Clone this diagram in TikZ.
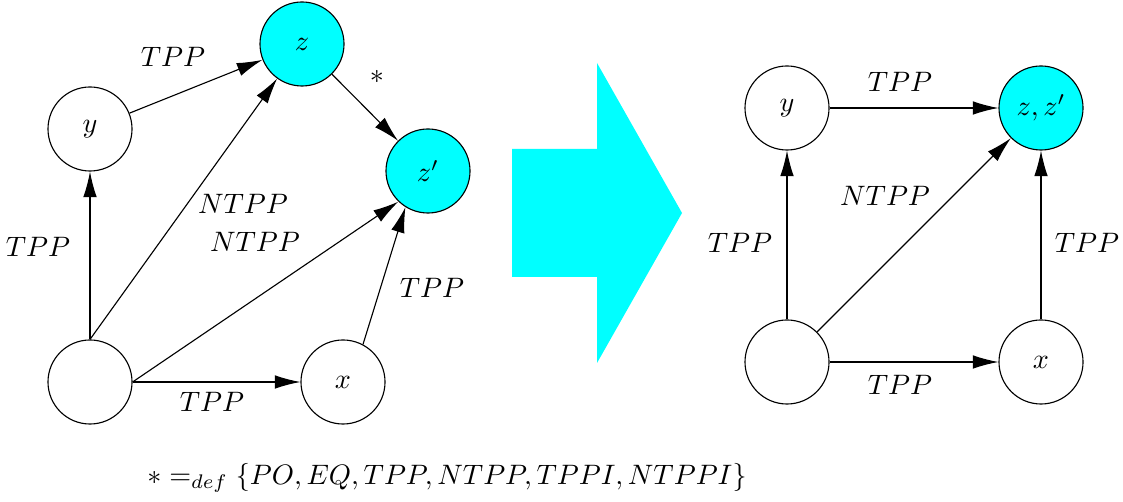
\documentclass[tikz,border=0pt]{standalone}
\usepackage{amsmath}
\usepackage{amssymb}
\usepackage{tikz}
\usetikzlibrary{arrows.meta}
\usetikzlibrary{positioning}
\definecolor{aqua}{RGB}{0,255,255}
\tikzset{>={Latex[length=3.2mm,width=1.7mm]}}

\begin{document}
\begin{tikzpicture}[
    x=0.0125cm, y=-0.0125cm,
    region/.style={circle, draw, minimum size=1.05cm, inner sep=0pt},
    merged/.style={region, fill=aqua},
    rel/.style={draw, ->},
    lbl/.style={inner sep=1pt}
    ]
\useasboundingbox (0,0) rectangle (1123,502);
%Left part: before
\node[region] (ly) at (90,129) {$y$};
\node[merged] (lz) at (302,44) {$z$};
\node[merged] (lzp) at (428,171) {$z'$};
\node[region] (lb) at (90,382) {};
\node[region] (lx) at (343,382) {$x$};
\draw[rel] (ly) -- (lz);
\draw[rel] (lz) -- (lzp);
\draw[rel] (lb.north) -- (ly);
\draw[rel] (lb.north) -- (lz);
\draw[rel] (lb.east) -- (lzp.226);
\draw[rel] (lb.east) -- (lx);
\draw[rel] (lx.62) -- (lzp.238);
\node[lbl] (t1) at (173,57) {$TPP$};
\node[lbl] (t2) at (377,77) {$*$};
\node[lbl] (t3) at (243,204) {$NTPP$};
\node[lbl] (t4) at (255,242) {$NTPP$};
\node[lbl] (t5) at (38,247) {$TPP$};
\node[lbl] (t6) at (432,288) {$TPP$};
\node[lbl] (t7) at (212,402) {$TPP$};
%Big arrow
\fill[aqua] (512,149) -- (597,149) -- (597,63) -- (682,213)
    -- (597,363) -- (597,277) -- (512,277) -- cycle;
%Right part: after
\node[region] (ry) at (787,108) {$y$};
\node[merged] (rz) at (1041,108) {$z,z'$};
\node[region] (rb) at (787,362) {};
\node[region] (rx) at (1041,362) {$x$};
\draw[rel] (ry) -- (rz);
\draw[rel] (rb) -- (ry);
\draw[rel] (rb) -- (rz);
\draw[rel] (rx) -- (rz);
\draw[rel] (rb) -- (rx);
\node[lbl] (s1) at (900,82) {$TPP$};
\node[lbl] (s2) at (885,196) {$NTPP$};
\node[lbl] (s3) at (740,243) {$TPP$};
\node[lbl] (s4) at (1087,243) {$TPP$};
\node[lbl] (s5) at (900,385) {$TPP$};
%Definition
\node[lbl] (def) at (447,478) {$* =_{def} \{PO, EQ, TPP, NTPP, TPPI, NTPPI\}$};
\end{tikzpicture}
\end{document}
